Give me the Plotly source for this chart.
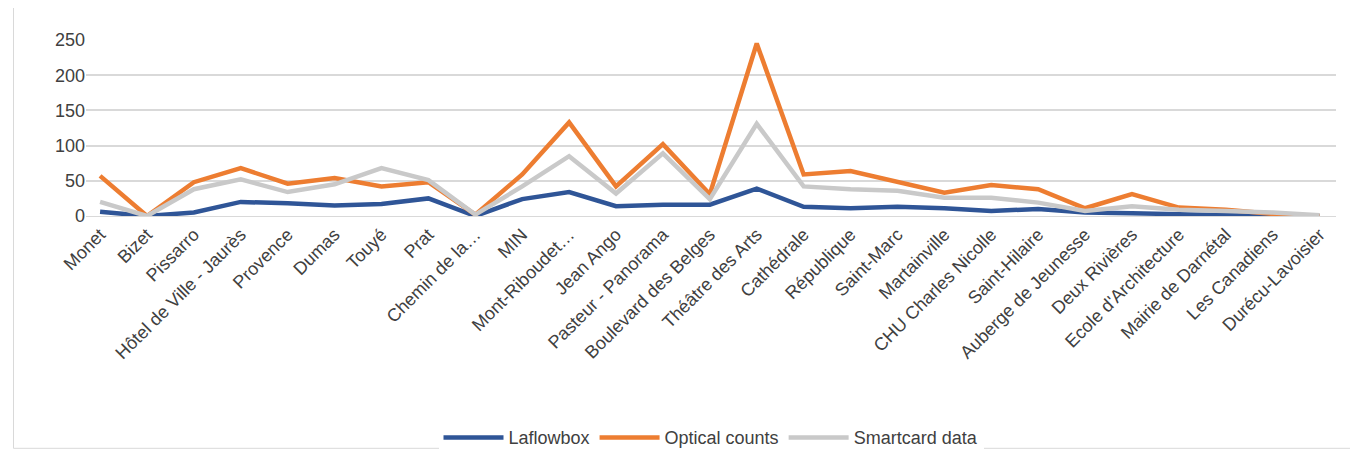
import plotly.graph_objects as go

stops = ["Monet","Bizet","Pissarro","Hôtel de Ville - Jaurès","Provence","Dumas","Touyé","Prat",
         "Chemin de la…","MIN","Mont-Riboudet…","Jean Ango","Pasteur - Panorama","Boulevard des Belges",
         "Théâtre des Arts","Cathédrale","République","Saint-Marc","Martainville","CHU Charles Nicolle",
         "Saint-Hilaire","Auberge de Jeunesse","Deux Rivières","Ecole d'Architecture","Mairie de Darnétal",
         "Les Canadiens","Durécu-Lavoisier"]
laflowbox = [6,0,5,20,18,15,17,25,0,24,34,14,16,16,39,13,11,13,11,7,10,5,4,2,1,1,0]
optical = [57,0,48,68,46,54,42,48,2,59,133,42,102,31,245,59,64,48,33,44,38,11,31,12,9,3,0]
smartcard = [20,0,38,52,34,45,68,51,2,42,85,32,89,24,131,42,38,36,26,26,19,7,14,9,7,5,1]

fig = go.Figure()
for name, vals, col in [("Laflowbox", laflowbox, "#2F5597"),
                        ("Optical counts", optical, "#ED7D31"),
                        ("Smartcard data", smartcard, "#C9C9C9")]:
    fig.add_trace(go.Scatter(x=stops, y=vals, name=name, mode="lines",
                             line=dict(color=col, width=4.5)))

fig.update_layout(
    width=1358, height=474, paper_bgcolor="white", plot_bgcolor="white",
    margin=dict(l=78, r=30, t=32, b=266),
    font=dict(family="Liberation Sans, Arial", size=18, color="#404040"),
    legend=dict(orientation="h", x=0.5, xanchor="center", y=-1.26, yanchor="middle",
                font=dict(size=18, color="#404040"), itemwidth=60),
    xaxis=dict(tickangle=-45, showgrid=False, showline=True, linecolor="#D9D9D9",
               ticks="", range=[-0.3, 26.35]),
    yaxis=dict(range=[0, 250], dtick=50, gridcolor="#D9D9D9", gridwidth=1.5,
               zeroline=False, showline=False, ticks="", ticklen=0),
    shapes=[dict(type="rect", xref="paper", yref="paper", x0=-0.058, x1=1.022, y0=-1.32, y1=1.2,
                 line=dict(color="#D9D9D9", width=1))],
)
fig.write_html("out.html")
